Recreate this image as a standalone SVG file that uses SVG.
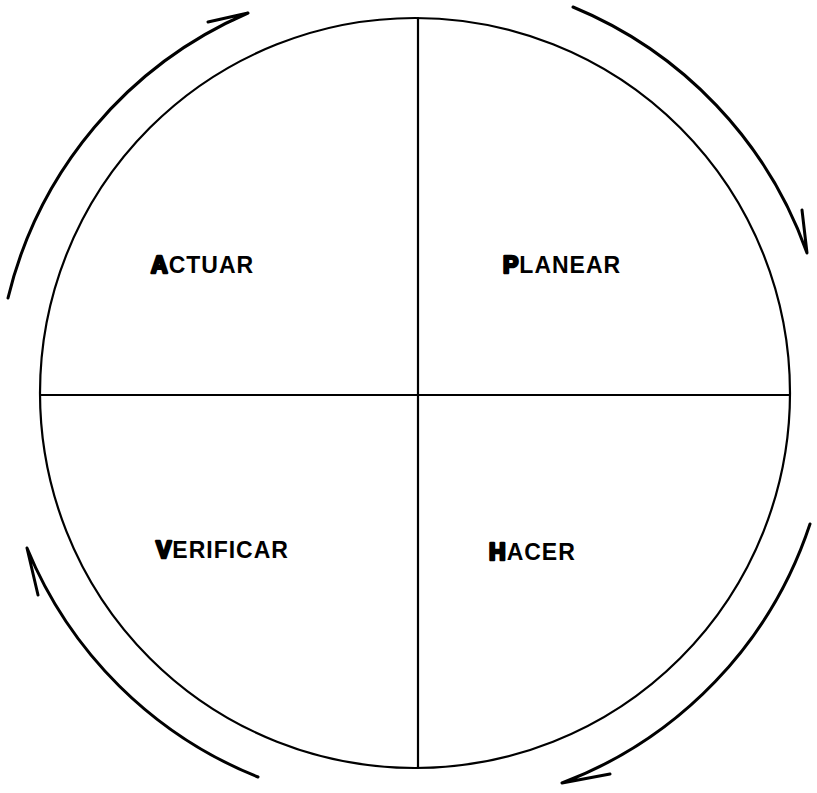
<svg xmlns="http://www.w3.org/2000/svg" width="817" height="793" viewBox="0 0 817 793">
<style>
.ln{fill:none;stroke:#000;stroke-width:2.2;stroke-linecap:round}
.arc{fill:none;stroke:#000;stroke-width:3;stroke-linecap:round;stroke-linejoin:round}
.lbl{font-family:"Liberation Sans",Arial,sans-serif;font-size:23px;font-weight:bold;fill:#000;letter-spacing:1px}
.ini{font-weight:900;stroke:#000;stroke-width:2.6;stroke-linejoin:round}
</style>
<rect width="817" height="793" fill="#fff"/>
<g id="circle">
<circle class="ln" cx="415" cy="393" r="375"/>
<line class="ln" x1="418" y1="18" x2="418" y2="768"/>
<line class="ln" x1="40" y1="395" x2="790" y2="395"/>
</g>
<g id="connectors">
<path class="arc" d="M8,298 A417,417 0 0 1 248,13 L208,22"/>
<path class="arc" d="M573,7 A417,417 0 0 1 807,253 L802,210"/>
<path class="arc" d="M810,524 A417,417 0 0 1 562,783 L610,774"/>
<path class="arc" d="M258,777 A417,417 0 0 1 27,548 L38,595"/>
</g>
<g id="actuar"><text class="lbl" x="151" y="273"><tspan class="ini">A</tspan>CTUAR</text></g>
<g id="planear"><text class="lbl" x="503" y="273"><tspan class="ini">P</tspan>LANEAR</text></g>
<g id="verificar"><text class="lbl" x="156" y="558"><tspan class="ini">V</tspan>ERIFICAR</text></g>
<g id="hacer"><text class="lbl" x="489" y="560"><tspan class="ini">H</tspan>ACER</text></g>
</svg>
